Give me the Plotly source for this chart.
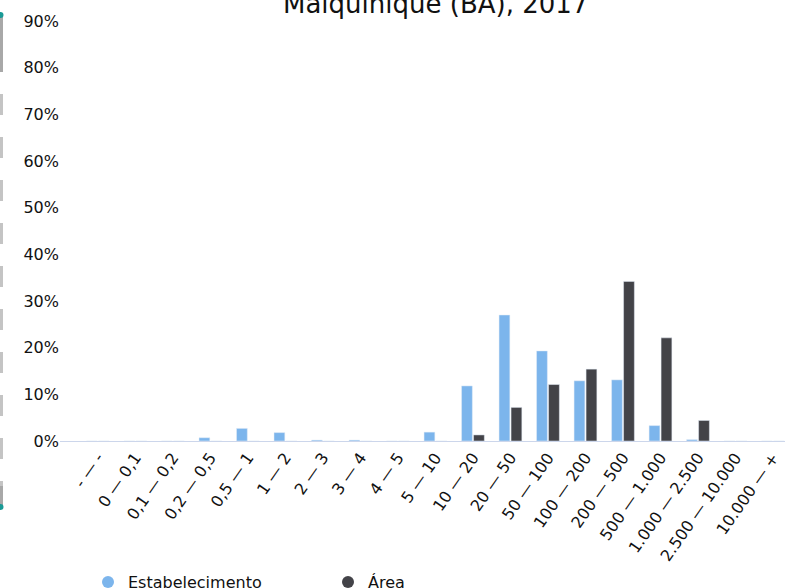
import plotly.graph_objects as go

categories = ["- — -", "0 — 0,1", "0,1 — 0,2", "0,2 — 0,5", "0,5 — 1", "1 — 2", "2 — 3",
              "3 — 4", "4 — 5", "5 — 10", "10 — 20", "20 — 50", "50 — 100", "100 — 200",
              "200 — 500", "500 — 1.000", "1.000 — 2.500", "2.500 — 10.000", "10.000 — +"]
estabelecimento = [0, 0, 0, 0.7, 2.7, 1.8, 0.2, 0.2, 0, 1.9, 11.8, 27.0, 19.3, 12.9, 13.1, 3.3, 0.3, 0, 0]
area = [0, 0, 0, 0, 0, 0, 0, 0, 0, 0, 1.3, 7.2, 12.1, 15.4, 34.2, 22.1, 4.4, 0, 0]
series_names = ["Estabelecimento", "Área"]
series_colors = ["#7cb5ec", "#434348"]
y_ticks = [0, 10, 20, 30, 40, 50, 60, 70, 80, 90]
y_tick_labels = ["0%", "10%", "20%", "30%", "40%", "50%", "60%", "70%", "80%", "90%"]
title_text = "Malquinique (BA), 2017"

FONT = "DejaVu Sans"
W, H = 785, 588
L, T, B = 60, 21, 441
PW = W - L
PH = B - T

fig = go.Figure()
for name, vals, col in zip(series_names, [estabelecimento, area], series_colors):
    fig.add_trace(go.Bar(x=categories, y=vals, name=name, marker_color=col,
                         showlegend=False, hoverinfo="x+y"))
for name, col in zip(series_names, series_colors):
    fig.add_trace(go.Scatter(x=[None], y=[None], mode="markers", name=name,
                             marker=dict(symbol="circle", size=13, color=col)))

def px_x(p):
    return (p - L) / PW

def px_y(p):
    return (B - p) / PH

# left decoration (dashed rail with teal end dots)
shapes = [
    dict(type="line", xref="paper", yref="paper", x0=px_x(1.5), x1=px_x(1.5),
         y0=px_y(15), y1=px_y(72), line=dict(color="#a8a8a8", width=3)),
    dict(type="line", xref="paper", yref="paper", x0=px_x(1.5), x1=px_x(1.5),
         y0=px_y(94), y1=px_y(486), line=dict(color="#c4c4c4", width=3, dash="21px,22px")),
    dict(type="line", xref="paper", yref="paper", x0=px_x(1.5), x1=px_x(1.5),
         y0=px_y(486), y1=px_y(506), line=dict(color="#a8a8a8", width=3)),
    dict(type="circle", xref="paper", yref="paper", x0=px_x(-2.5), x1=px_x(3.5),
         y0=px_y(12), y1=px_y(18), fillcolor="#1a9a96", line=dict(width=0)),
    dict(type="circle", xref="paper", yref="paper", x0=px_x(-2.5), x1=px_x(3.5),
         y0=px_y(504), y1=px_y(510), fillcolor="#1a9a96", line=dict(width=0)),
]

annotations = [
    dict(text=title_text, xref="paper", yref="paper", x=px_x(435), y=px_y(4),
         xanchor="center", yanchor="middle", showarrow=False,
         font=dict(family=FONT, size=26, color="#111111")),
]

fig.update_layout(
    width=W, height=H,
    margin=dict(l=L, r=0, t=T, b=H - B, pad=0, autoexpand=False),
    paper_bgcolor="white", plot_bgcolor="white",
    font=dict(family=FONT, size=16, color="#111111"),
    barmode="group", bargap=0.36, bargroupgap=0.1,
    showlegend=True,
    legend=dict(orientation="h", x=px_x(88), xanchor="left", y=px_y(565), yanchor="top",
                font=dict(family=FONT, size=16, color="#111111"),
                entrywidth=195, entrywidthmode="pixels", itemsizing="constant",
                bgcolor="rgba(0,0,0,0)"),
    shapes=shapes,
    annotations=annotations,
)
fig.update_xaxes(type="category", range=[-1.01, 18.32], tickangle=-55, automargin=False,
                 showline=True, linecolor="#ccd6eb", linewidth=1,
                 showgrid=False, ticks="", zeroline=False,
                 tickfont=dict(family=FONT, size=16, color="#111111"))
fig.update_yaxes(range=[0, 90], tickmode="array", tickvals=y_ticks, ticktext=y_tick_labels,
                 automargin=False,
                 showgrid=False, zeroline=False, showline=False, ticks="",
                 tickfont=dict(family=FONT, size=16, color="#111111"))

fig.write_html("out.html", config={"displayModeBar": False},
               post_script="document.body.style.margin='0px';")
